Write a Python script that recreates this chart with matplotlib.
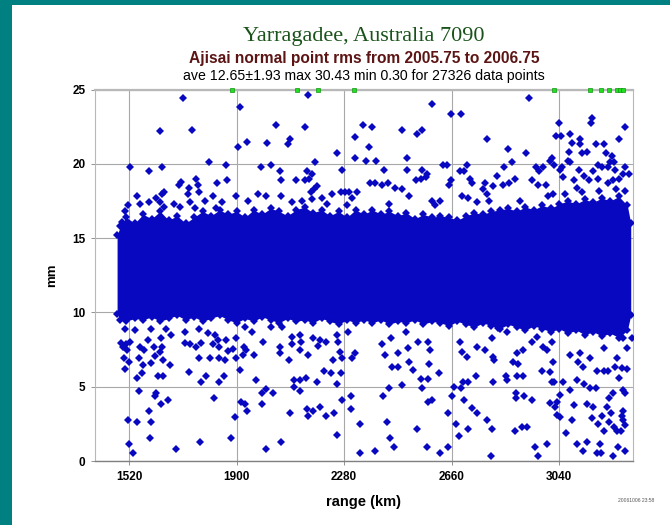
import numpy as np
import matplotlib
matplotlib.use("Agg")
import matplotlib.pyplot as plt
import matplotlib.patches as patches

# ---- data ----
# dense band of normal points: outer envelope per range bin (km -> mm)
band_range = [1478, 1490, 1510, 1540, 1570, 1600, 1630, 1660, 1690, 1720, 1750, 1780,
              1810, 1840, 1870, 1900, 1930, 1960, 1990, 2020, 2050, 2080, 2110, 2140,
              2170, 2200, 2230, 2260, 2290, 2320, 2350, 2380, 2410, 2440, 2470, 2500,
              2530, 2560, 2590, 2620, 2650, 2680, 2710, 2740, 2770, 2800, 2830, 2860,
              2890, 2920, 2950, 2980, 3010, 3040, 3070, 3100, 3130, 3160, 3190, 3220,
              3250, 3280, 3292]
band_top = [15.2, 15.8, 16.4, 16.0, 16.6, 16.3, 16.8, 16.2, 16.5, 16.0, 16.4, 16.8,
            16.5, 16.9, 16.6, 16.8, 16.4, 16.9, 16.6, 17.0, 16.8, 16.5, 16.9, 17.1,
            16.7, 16.9, 16.5, 16.8, 16.4, 16.9, 16.6, 16.9, 16.6, 16.8, 16.5, 16.7,
            16.3, 16.6, 16.4, 16.5, 16.4, 16.2, 16.5, 16.7, 16.6, 16.8, 16.9, 17.0,
            16.8, 17.1, 16.9, 17.2, 17.0, 17.3, 17.5, 17.3, 17.6, 17.4, 17.7, 17.5,
            17.8, 17.2, 16.0]
band_bottom = [9.9, 9.5, 9.4, 9.6, 9.5, 9.7, 9.4, 9.6, 9.8, 9.5, 9.7, 9.4,
               9.6, 9.8, 9.5, 9.3, 9.6, 9.4, 9.7, 9.5, 9.3, 9.6, 9.4, 9.5,
               9.3, 9.6, 9.4, 9.2, 9.5, 9.3, 9.5, 9.3, 9.5, 9.2, 9.4, 9.3,
               9.5, 9.2, 9.4, 9.3, 9.1, 9.4, 9.2, 9.0, 9.3, 9.1, 8.9, 9.2,
               9.0, 8.8, 9.1, 8.9, 8.7, 8.9, 8.6, 8.8, 8.5, 8.7, 8.4, 8.6,
               8.3, 8.8, 9.8]

# scattered points above the band
hi_range = [1711, 1911, 1628, 1742, 2038, 2142, 2151, 2088, 2082, 1937, 1905, 2009,
            2345, 2319, 2366, 2319, 2255, 2356, 2274, 1522, 1637, 1591, 1802, 1864,
            1986, 2022, 2052, 2057, 2176, 2149, 2111, 2141, 2155, 2167, 1866, 1831,
            1756, 1703, 1696, 1731, 1764, 1644, 1638, 1615, 1550, 1730, 1768, 1818,
            1897, 2183, 2174, 2162, 2236, 2269, 2282, 2298, 2325, 2306, 2056, 1977,
            2005, 1628, 1643, 1517, 1699, 1734, 1752, 1829, 2200, 2167,
            2934, 2590, 2656, 2691, 2380, 2483, 2556, 2536, 2786, 3037, 3154, 3150,
            3273, 3028, 3045, 3079, 3113, 3086, 3113, 3168, 3199, 3251, 2857, 2922,
            3075, 3138, 3121, 3203, 3225, 2392, 2503, 2420, 2503, 2556, 2571, 2569,
            2534, 2551, 2630, 2644, 2689, 2703, 2713, 2846, 2873, 2956, 2982, 2968,
            3007, 3013, 3020, 3041, 3048, 3072, 3078, 3108, 3177, 3192, 3219, 3234,
            3211, 3237, 3270, 3285, 3263, 3251, 2724, 2819, 2883, 2943, 3052, 3128,
            3160, 3178, 2657, 2371, 2389, 2436, 2651, 2730, 2777, 2840, 2863, 2966,
            2993, 3092, 3143, 3211, 3228, 3101, 2460, 2412, 2483, 2510, 2589, 2618,
            2697, 2718, 2769, 2783, 2804, 2793, 3019, 3272, 1505, 1494, 1560, 1590,
            1680, 1790, 1850, 1940, 2095, 2130, 2220, 2290, 2440, 2600, 2750, 2900,
            3000, 3060, 3120, 3180, 3240]
hi_rms = [24.4, 23.8, 22.2, 22.3, 22.6, 22.5, 24.6, 21.7, 21.3, 21.45, 21.1, 21.4,
          22.6, 21.8, 21.1, 20.4, 20.7, 20.2, 19.6, 19.76, 19.76, 19.5, 20.1, 19.9,
          19.76, 19.9, 19.5, 18.9, 20.1, 19.5, 18.9, 18.9, 19.0, 19.3, 18.9, 18.7,
          19.0, 18.8, 18.6, 18.4, 18.6, 18.1, 18.0, 17.7, 17.8, 17.97, 18.1, 17.8,
          17.8, 18.5, 18.3, 18.1, 17.97, 18.1, 18.1, 18.1, 18.1, 17.7, 17.8, 17.97,
          17.8, 17.4, 17.1, 17.2, 17.1, 17.4, 17.0, 17.0, 17.7, 17.6,
          24.4, 24.0, 23.35, 23.35, 22.5, 22.3, 22.3, 22.0, 21.7, 22.77, 23.06, 22.77,
          22.5, 21.87, 21.87, 22.0, 21.7, 21.4, 21.3, 21.3, 21.3, 21.7, 21.0, 20.7,
          20.8, 20.8, 20.7, 20.7, 20.5, 20.2, 20.4, 19.6, 19.6, 19.6, 19.3, 19.1,
          18.9, 19.0, 19.9, 19.9, 19.5, 19.5, 19.9, 19.76, 20.1, 19.76, 19.76, 19.5,
          20.2, 20.4, 19.9, 19.6, 19.76, 20.2, 20.1, 19.6, 19.9, 19.76, 20.1, 20.1,
          19.76, 19.6, 19.76, 19.3, 19.3, 19.0, 19.0, 19.2, 19.0, 18.9, 19.1, 19.2,
          19.5, 19.0, 18.9, 18.7, 18.7, 18.7, 18.55, 18.7, 18.7, 18.6, 18.7, 18.6,
          18.6, 18.9, 18.9, 18.7, 18.9, 18.4, 18.4, 18.6, 18.3, 17.8, 17.5, 17.5,
          17.8, 17.7, 18.3, 18.0, 18.5, 17.5, 18.0, 18.2, 16.8, 16.1, 17.3, 17.4,
          17.3, 17.5, 17.4, 17.5, 17.4, 17.5, 17.3, 17.2, 17.3, 17.2, 17.4, 17.5,
          17.8, 18.0, 18.1, 18.2, 18.3]

# scattered points below the band
lo_range = [1505, 1540, 1599, 1587, 1650, 1634, 1670, 1717, 1767, 1799, 1823, 1835,
            1862, 1899, 1929, 1956, 1994, 2023, 2062, 2095, 2123, 2170, 2194, 2255,
            2293, 1493, 1511, 1525, 1499, 1513, 1558, 1573, 1607, 1635, 1717, 1735,
            1758, 1776, 1817, 1838, 1870, 1888, 1925, 1935, 1961, 1923, 2052, 2052,
            2094, 2127, 2123, 2188, 2217, 2259, 2265, 2274, 2306, 2318, 1502, 1519,
            1505, 1555, 1570, 1611, 1628, 1640, 1664, 1597, 1767, 1805, 1838, 1858,
            1899, 1911, 2085, 2153, 2241, 1548, 1567, 1623, 1640, 1732, 1791, 1776,
            1838, 1855, 1970, 2103, 2123, 2144, 2184, 2209, 2232, 2270, 2255, 1555,
            1614, 1611, 1634, 1657, 1819, 2005, 1991, 2027, 1990, 1917, 1931, 1937,
            1895, 2102, 2123, 2148, 2153, 2170, 2196, 2215, 2243, 2273, 2305, 2305,
            2090, 1591, 1515, 1549, 1599, 1593, 1521, 1534, 1685, 1771, 1879, 2003,
            2058, 2256, 2335, 2335,
            2412, 2444, 2498, 2542, 2577, 2583, 2506, 2471, 2423, 2509, 2524, 2448,
            2471, 2581, 2551, 2577, 2615, 2483, 2439, 2416, 2556, 2591, 2577, 2660,
            2648, 2669, 2694, 2701, 2716, 2703, 2730, 2748, 2745, 2689, 2695, 2713,
            2750, 2777, 2807, 2810, 2801, 2824, 2854, 2877, 2895, 2852, 2856, 2889,
            2910, 2807, 2886, 2886, 2916, 2942, 2889, 2913, 2942, 2960, 2983, 2995,
            3016, 3013, 2978, 3007, 3013, 3022, 3042, 3031, 3025, 3031, 3042, 3007,
            2783, 2801, 2883, 2909, 2927, 2954, 2966, 2995, 2797, 2645, 2618, 2571,
            2536, 2457, 2442, 2430, 2389, 2674, 2687, 2716, 3062, 3084, 3101, 3125,
            3139, 3184, 3172, 3186, 3231, 3246, 3273, 3198, 3214, 3233, 3245, 3257,
            3178, 3154, 3191, 3221, 3260, 3266, 3272, 3263, 3137, 3160, 3090, 3207,
            3214, 3229, 3263, 3273, 3078, 3127, 3148, 3168, 3101, 3054, 3249, 3278,
            3172, 3196, 3210, 3125, 3107, 3237, 3260, 3078, 3113, 3148, 3196, 3243,
            3278, 3266, 3296]
lo_rms = [8.9, 8.8, 8.9, 8.14, 8.86, 8.25, 8.5, 8.7, 8.86, 8.6, 8.5, 8.14,
          8.14, 8.25, 9.0, 8.7, 8.03, 9.0, 9.0, 8.36, 8.5, 8.25, 8.14, 8.5,
          8.7, 7.96, 7.87, 8.03, 7.69, 7.47, 7.65, 7.47, 7.65, 7.69, 7.96, 7.87,
          7.65, 7.96, 7.87, 7.65, 7.42, 7.51, 7.65, 7.47, 7.13, 7.13, 7.65, 7.24,
          7.87, 8.03, 7.47, 7.74, 8.03, 8.03, 7.35, 6.9, 6.9, 7.24, 6.9, 6.68,
          6.19, 6.9, 6.46, 7.06, 7.35, 6.8, 6.46, 6.6, 6.9, 6.9, 6.9, 6.8,
          6.9, 6.12, 6.8, 7.13, 6.8, 5.6, 5.9, 5.72, 5.72, 6.0, 5.72, 5.29,
          5.29, 5.72, 5.45, 5.45, 5.45, 5.6, 5.29, 6.05, 5.9, 5.9, 5.16, 4.71,
          4.55, 4.39, 3.81, 4.1, 4.26, 4.87, 4.55, 4.55, 3.81, 3.95, 3.81, 3.36,
          2.94, 5.0, 4.71, 3.5, 3.05, 3.36, 3.65, 3.05, 3.2, 4.1, 4.39, 3.5,
          3.2, 3.36, 2.76, 2.6, 2.6, 1.57, 1.14, 0.51, 0.8, 1.25, 1.57, 0.8,
          1.25, 1.73, 0.51, 2.46,
          7.9, 8.25, 8.7, 8.03, 8.03, 7.47, 7.58, 7.24, 7.13, 6.68, 6.12, 6.35,
          6.35, 6.52, 5.5, 5.5, 5.94, 5.11, 4.89, 4.39, 4.89, 4.1, 3.99, 4.39,
          3.2, 5.0, 4.89, 5.29, 5.29, 4.1, 3.54, 3.2, 5.72, 8.03, 7.35, 7.02,
          7.65, 7.47, 7.02, 6.8, 8.25, 8.92, 8.7, 6.68, 6.5, 5.72, 5.45, 5.72,
          5.72, 5.34, 4.55, 4.26, 4.39, 4.1, 7.24, 7.47, 8.03, 8.36, 7.69, 7.47,
          6.68, 8.03, 6.05, 6.01, 5.34, 5.34, 4.44, 3.99, 3.65, 3.09, 2.98, 3.88,
          2.76, 2.15, 2.02, 2.31, 2.31, 0.96, 0.36, 1.12, 0.36, 0.96, 0.51, 0.96,
          2.15, 0.96, 1.57, 2.6, 0.67, 2.46, 1.7, 2.15, 1.86, 2.76, 1.12, 0.67,
          1.25, 1.12, 0.51, 0.51, 0.36, 0.96, 0.67, 2.02, 2.6, 2.31, 2.02, 2.02,
          2.46, 2.91, 3.05, 3.2, 3.05, 2.76, 2.42, 3.36, 3.83, 3.65, 3.76, 3.65,
          4.21, 4.55, 4.77, 4.55, 4.77, 5.18, 4.89, 4.89, 5.45, 5.34, 5.56, 6.19,
          6.08, 6.08, 6.08, 6.35, 6.68, 6.35, 6.23, 7.13, 7.24, 6.9, 7.58, 6.9,
          7.58, 8.25, 8.25]

# points beyond the 25 mm top, drawn on the top edge
over_range = [1883, 2112, 2186, 2313, 3022, 3148, 3188, 3217, 3243, 3254, 3266]

title = "Yarragadee, Australia 7090"
subtitle = "Ajisai normal point rms from 2005.75 to 2006.75"
stats = "ave 12.65\u00b11.93 max 30.43 min 0.30 for 27326 data points"
x_ticks = [1520, 1900, 2280, 2660, 3040]
y_ticks = [0, 5, 10, 15, 20, 25]

blue = "#0808c0"

fig = plt.figure(figsize=(6.7, 5.25), dpi=100)
fig.patch.set_facecolor("white")
# teal frame of the page
fig.add_artist(patches.Rectangle((0, 0), 12 / 670, 1, transform=fig.transFigure,
                                 facecolor="#008080", edgecolor="none"))
fig.add_artist(patches.Rectangle((0, 1 - 5 / 525), 1, 5 / 525, transform=fig.transFigure,
                                 facecolor="#008080", edgecolor="none"))

ax = fig.add_axes([95 / 670, 1 - 461 / 525, (633 - 95) / 670, (461 - 89.5) / 525])
ax.set_xlim(1400, 3300)
ax.set_ylim(0, 25)

ax.fill_between(band_range, band_bottom, band_top, color=blue, lw=0, zorder=2)
ax.plot(band_range, band_top, "D", ms=3.8, color=blue, mew=0, zorder=3)
ax.plot(band_range, band_bottom, "D", ms=3.8, color=blue, mew=0, zorder=3)
ax.plot(hi_range, hi_rms, "D", ms=3.8, color=blue, mew=0, zorder=3)
ax.plot(lo_range, lo_rms, "D", ms=3.8, color=blue, mew=0, zorder=3)
ax.plot(over_range, [25] * len(over_range), "s", ms=3.2, color="#22dd22",
        mec="#119911", mew=0.5, clip_on=False, zorder=5)

ax.set_xticks(x_ticks)
ax.set_yticks(y_ticks)
ax.grid(True, color="#a8a8a8", lw=0.8)
ax.set_axisbelow(True)
for s in ["left", "right", "top"]:
    ax.spines[s].set_color("#b8b8b8")
    ax.spines[s].set_linewidth(0.8)
ax.spines["top"].set_linewidth(1.6)
ax.spines["bottom"].set_color("#808080")
ax.spines["bottom"].set_linewidth(1.0)
ax.tick_params(axis="both", length=3, width=0.6, color="#808080",
               labelsize=8.5, pad=4)
for lab in ax.get_xticklabels() + ax.get_yticklabels():
    lab.set_fontweight("bold")
    lab.set_family("Liberation Sans")

ax.set_xlabel("range (km)", fontsize=10.5, fontweight="bold", family="Liberation Sans",
              labelpad=9)
ax.set_ylabel("mm", fontsize=9.5, fontweight="bold", family="Liberation Sans",
              labelpad=10)

fig.text(364 / 670, 1 - 37 / 525, title, ha="center", va="center", fontsize=16,
         color="#1a531a", family="Liberation Serif")
fig.text(364 / 670, 1 - 58 / 525, subtitle, ha="center", va="center", fontsize=11.2,
         fontweight="bold", color="#5c1414", family="Liberation Sans")
fig.text(364 / 670, 1 - 76 / 525, stats, ha="center", va="center", fontsize=10.2,
         color="black", family="Liberation Sans")
fig.text(636 / 670, 1 - 501 / 525, "20061006 23:58", ha="center", va="center",
         fontsize=3.6, color="#555555", family="Liberation Sans")

fig.savefig("out.png", dpi=100)
